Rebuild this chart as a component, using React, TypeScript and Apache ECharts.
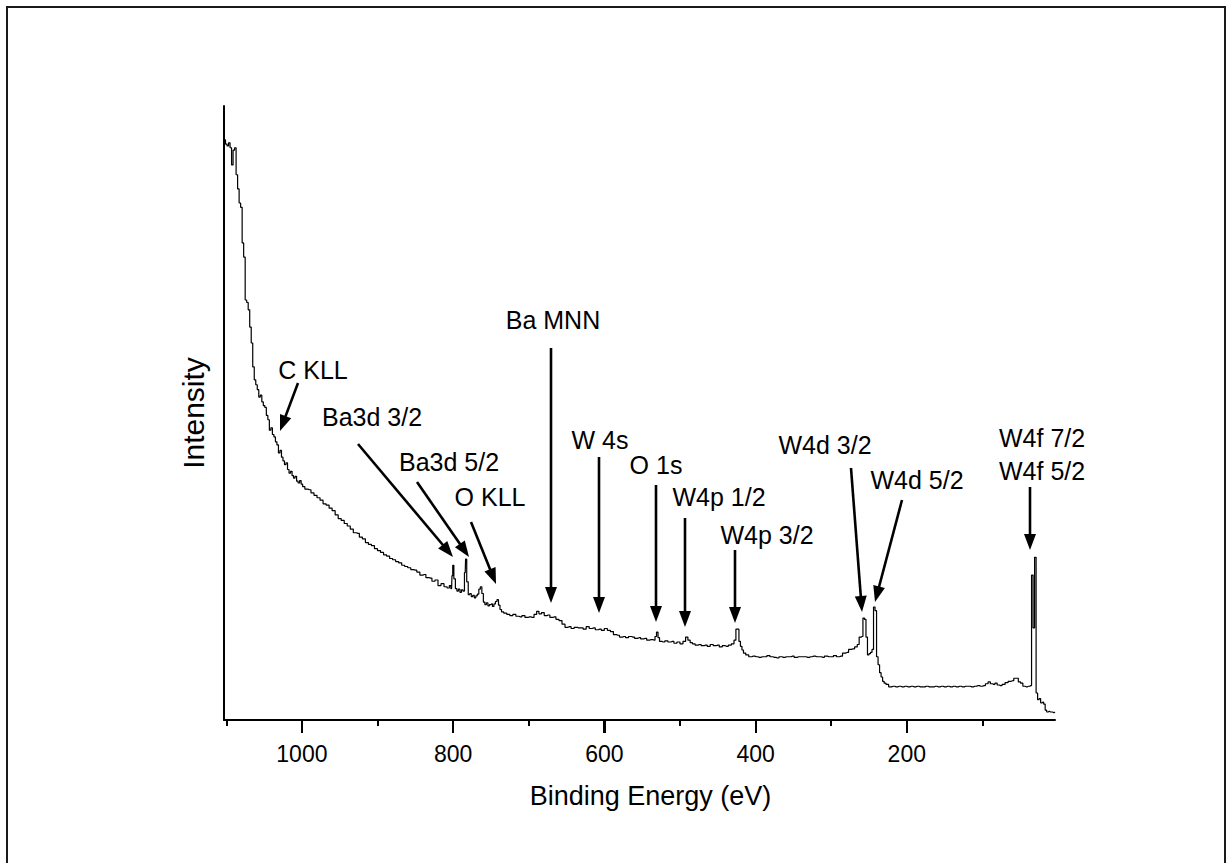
import React, { useEffect, useRef } from "react";
import * as echarts from "echarts";

// Binding energy (eV) and intensity (arb. units)
const SPECTRUM: [number, number][] = [
  [1102, 94.5], [1100, 93.8], [1098, 93.5], [1096, 94.0], [1094, 93.2], [1092, 90.4], [1090, 92.8], [1088, 93.2],
  [1086, 88.8], [1084, 86.5], [1082, 84.2], [1080, 83.5], [1078, 77.7], [1076, 75.4], [1074, 68.4], [1072, 68.0],
  [1070, 66.8], [1068, 64.0], [1066, 61.4], [1064, 57.5], [1062, 55.4], [1060, 54.6], [1058, 53.8], [1056, 52.6],
  [1054, 52.9], [1052, 51.8], [1050, 51.2], [1048, 50.9], [1046, 49.6], [1044, 48.9], [1042, 47.2], [1040, 47.6],
  [1038, 46.5], [1036, 46.1], [1034, 45.3], [1032, 44.8], [1030, 43.5], [1028, 43.9], [1026, 42.8], [1024, 42.2],
  [1022, 41.6], [1020, 41.9], [1018, 40.8], [1016, 40.2], [1014, 40.5], [1012, 39.8], [1010, 39.4], [1008, 39.7],
  [1006, 38.9], [1004, 38.6], [1002, 39.0], [1000, 38.4], [998, 38.0], [994, 37.6], [990, 37.5], [986, 37.0],
  [982, 36.6], [978, 36.2], [974, 35.8], [970, 35.2], [966, 35.0], [962, 34.5], [958, 34.1], [954, 33.4],
  [950, 32.8], [946, 32.5], [942, 32.0], [938, 31.6], [934, 31.1], [930, 30.5], [926, 30.4], [922, 29.8],
  [918, 29.5], [914, 28.9], [910, 28.6], [906, 28.4], [902, 27.9], [898, 27.6], [894, 27.3], [890, 26.9],
  [886, 26.7], [882, 26.3], [878, 26.1], [874, 25.8], [870, 25.6], [866, 25.2], [862, 25.0], [858, 24.8],
  [854, 24.5], [850, 24.4], [846, 24.1], [842, 23.6], [838, 23.7], [834, 23.2], [830, 23.1], [826, 22.6],
  [822, 22.8], [818, 21.9], [814, 22.2], [810, 21.7], [806, 21.5], [804, 21.9], [802, 21.4], [801, 23.5],
  [800, 25.2], [798, 23.0], [796, 21.4], [794, 21.0], [792, 21.3], [790, 20.8], [788, 21.2], [786, 21.0],
  [784, 24.0], [783, 26.2], [781, 22.5], [779, 20.4], [777, 20.6], [775, 20.1], [773, 20.3], [771, 19.9],
  [769, 20.2], [767, 20.5], [765, 21.3], [763, 21.7], [761, 20.6], [759, 19.2], [757, 18.8], [755, 19.1],
  [753, 18.6], [751, 18.8], [749, 18.9], [747, 18.5], [745, 18.9], [743, 19.3], [741, 19.6], [739, 18.7],
  [737, 18.0], [735, 17.6], [731, 17.4], [727, 17.2], [723, 17.0], [719, 17.2], [715, 16.9], [711, 16.8],
  [707, 17.0], [703, 16.7], [699, 16.8], [695, 16.7], [691, 17.2], [688, 17.7], [685, 17.3], [681, 17.5],
  [678, 17.0], [674, 17.1], [670, 16.7], [666, 16.8], [662, 16.4], [658, 16.2], [654, 15.6], [650, 15.1],
  [646, 15.2], [642, 14.9], [638, 15.1], [634, 15.0], [630, 15.0], [626, 14.8], [622, 15.2], [618, 14.9],
  [614, 15.0], [610, 14.7], [606, 14.8], [602, 14.6], [598, 14.9], [594, 14.6], [590, 14.4], [586, 13.9],
  [582, 13.8], [578, 13.5], [574, 13.6], [570, 13.4], [566, 13.6], [562, 13.5], [558, 13.3], [554, 13.4],
  [550, 13.2], [546, 13.3], [542, 13.0], [538, 13.1], [534, 13.0], [532, 13.6], [530, 14.3], [528, 13.4],
  [526, 12.8], [522, 12.7], [518, 12.9], [514, 12.7], [510, 12.8], [506, 12.5], [502, 12.7], [498, 12.4],
  [494, 12.8], [491, 13.5], [488, 13.0], [485, 12.6], [482, 12.4], [478, 12.2], [474, 12.3], [470, 12.1],
  [466, 12.2], [462, 12.0], [458, 12.3], [454, 12.1], [450, 12.2], [446, 11.9], [442, 12.1], [438, 12.0],
  [434, 12.2], [430, 12.4], [427, 13.0], [425, 14.8], [423, 14.8], [421, 12.8], [419, 12.0], [417, 11.4],
  [415, 10.9], [411, 10.6], [407, 10.3], [403, 10.4], [399, 10.3], [395, 10.2], [391, 10.3], [387, 10.3],
  [383, 10.5], [379, 10.3], [375, 10.2], [371, 10.1], [367, 10.3], [363, 10.2], [359, 10.3], [355, 10.3],
  [351, 10.4], [347, 10.2], [343, 10.3], [339, 10.3], [335, 10.3], [331, 10.2], [327, 10.3], [323, 10.4],
  [319, 10.3], [315, 10.3], [311, 10.2], [307, 10.4], [303, 10.3], [299, 10.3], [295, 10.5], [291, 10.3],
  [287, 10.4], [283, 10.9], [279, 11.0], [275, 11.5], [271, 11.6], [267, 11.9], [264, 12.3], [262, 13.5],
  [259, 13.6], [257, 16.6], [255, 16.4], [253, 13.5], [251, 10.6], [249, 10.8], [247, 11.0], [245, 11.5],
  [243, 18.4], [241, 17.8], [239, 10.3], [237, 9.0], [235, 7.7], [233, 7.0], [231, 6.3], [229, 6.0],
  [226, 5.8], [222, 5.4], [218, 5.5], [214, 5.4], [210, 5.5], [206, 5.4], [202, 5.5], [198, 5.4],
  [194, 5.5], [190, 5.4], [186, 5.5], [182, 5.4], [178, 5.4], [174, 5.5], [170, 5.4], [166, 5.4],
  [162, 5.5], [158, 5.4], [154, 5.5], [150, 5.4], [146, 5.5], [142, 5.4], [138, 5.5], [134, 5.4],
  [130, 5.5], [126, 5.4], [122, 5.5], [118, 5.5], [114, 5.4], [110, 5.5], [106, 5.6], [102, 5.5],
  [98, 5.6], [94, 5.9], [91, 6.2], [88, 5.9], [85, 5.8], [82, 6.0], [79, 5.7], [76, 5.6],
  [72, 5.8], [68, 6.1], [64, 6.3], [60, 6.4], [57, 6.8], [54, 6.8], [51, 6.2], [48, 6.0],
  [45, 5.5], [42, 5.4], [39, 5.5], [36, 5.6], [34, 23.6], [32, 15.0], [30, 26.5], [28, 4.4],
  [26, 3.3], [24, 3.5], [22, 2.8], [20, 2.9], [18, 2.6], [16, 1.6], [14, 1.3], [12, 1.4],
  [10, 1.3], [8, 1.3], [6, 1.2], [4, 1.3],
];

const MAJOR_TICKS = [1000, 800, 600, 400, 200];
const MINOR_TICKS = [1100, 900, 700, 500, 300, 100];

// Peak labels with arrow (start -> tip), page pixel coordinates
const LABELS = [
  { text: "C KLL", x: 313, y: 370, align: "center", arrow: [298, 383, 280, 431] },
  { text: "Ba3d 3/2", x: 372, y: 417, align: "center", arrow: [358, 444, 453, 557] },
  { text: "Ba3d 5/2", x: 449, y: 462, align: "center", arrow: [417, 482, 469, 557] },
  { text: "O KLL", x: 490, y: 497, align: "center", arrow: [471, 522, 496, 584] },
  { text: "Ba MNN", x: 553, y: 320, align: "center", arrow: [551, 348, 551, 603] },
  { text: "W 4s", x: 600, y: 440, align: "center", arrow: [599, 457, 599, 613] },
  { text: "O 1s", x: 656, y: 465, align: "center", arrow: [656, 485, 656, 622] },
  { text: "W4p 1/2", x: 719, y: 497, align: "center", arrow: [685, 518, 685, 627] },
  { text: "W4p 3/2", x: 767, y: 535, align: "center", arrow: [735, 550, 735, 623] },
  { text: "W4d 3/2", x: 825, y: 445, align: "center", arrow: [851, 468, 862, 612] },
  { text: "W4d 5/2", x: 917, y: 480, align: "center", arrow: [902, 500, 875, 602] },
  { text: "W4f 7/2", x: 999, y: 438, align: "left", arrow: null },
  { text: "W4f 5/2", x: 999, y: 471, align: "left", arrow: [1030, 487, 1030, 550] },
];

const FONT = "'Liberation Sans', Arial, Helvetica, sans-serif";

function buildGraphics(chart: any) {
  const els: any[] = [];
  els.push({
    type: "rect",
    shape: { x: 7, y: 7, width: 1218, height: 900 },
    style: { fill: "none", stroke: "#1a1a1a", lineWidth: 2 },
    silent: true,
  });
  // major ticks placed through the axis scale
  const y0 = chart.convertToPixel({ yAxisIndex: 0 }, 0) as number;
  MAJOR_TICKS.forEach((v) => {
    const px = Math.round(chart.convertToPixel({ xAxisIndex: 1 }, v) as number);
    els.push({
      type: "line",
      shape: { x1: px, y1: y0, x2: px, y2: y0 + 13 },
      style: { stroke: "#000", lineWidth: 2 },
      silent: true,
    });
  });
  LABELS.forEach((l) => {
    els.push({
      type: "text",
      x: l.x,
      y: l.y,
      style: {
        text: l.text,
        font: `25px ${FONT}`,
        fill: "#000",
        align: l.align,
        verticalAlign: "middle",
      },
    });
    if (l.arrow) {
      const [x1, y1, x2, y2] = l.arrow;
      const dx = x2 - x1;
      const dy = y2 - y1;
      const len = Math.sqrt(dx * dx + dy * dy);
      const ux = dx / len;
      const uy = dy / len;
      const L = 16;
      const W = 12;
      const bx = x2 - ux * L;
      const by = y2 - uy * L;
      const nx = -uy;
      const ny = ux;
      els.push({
        type: "line",
        shape: { x1, y1, x2: bx + ux * 2, y2: by + uy * 2 },
        style: { stroke: "#000", lineWidth: 2.6 },
      });
      els.push({
        type: "polygon",
        shape: {
          points: [
            [x2, y2],
            [bx + (nx * W) / 2, by + (ny * W) / 2],
            [bx - (nx * W) / 2, by - (ny * W) / 2],
          ],
        },
        style: { fill: "#000" },
      });
    }
  });
  return els;
}

export default function App() {
  const ref = useRef<HTMLDivElement>(null);
  useEffect(() => {
    if (!ref.current) return;
    const chart = echarts.init(ref.current, null, { renderer: "svg" });
    chart.setOption({
      animation: false,
      backgroundColor: "#fff",
      grid: { left: 224, right: 171, top: 106, bottom: 143, containLabel: false },
      xAxis: [
        {
          type: "value",
          inverse: true,
          min: 4,
          max: 1103,
          position: "bottom",
          axisLine: { show: false },
          axisTick: {
            show: true,
            customValues: MINOR_TICKS,
            length: 6,
            lineStyle: { color: "#000", width: 2 },
          },
          axisLabel: { show: false },
          splitLine: { show: false },
        },
        {
          type: "value",
          inverse: true,
          min: 4,
          max: 1103,
          position: "bottom",
          name: "Binding Energy (eV)",
          nameLocation: "middle",
          nameGap: 62,
          nameTextStyle: { fontSize: 27, fontFamily: FONT, color: "#000", padding: [0, 0, 0, 22] },
          axisLine: { show: true, onZero: false, lineStyle: { color: "#000", width: 2 } },
          axisTick: {
            show: true,
            customValues: MAJOR_TICKS,
            length: 13,
            lineStyle: { color: "#000", width: 2 },
          },
          axisLabel: {
            customValues: MAJOR_TICKS,
            fontSize: 23,
            fontFamily: FONT,
            color: "#000",
            margin: 22,
            formatter: (v: number) => String(v),
          },
          splitLine: { show: false },
        },
      ],
      yAxis: {
        type: "value",
        min: 0,
        max: 100,
        name: "Intensity",
        nameLocation: "middle",
        nameGap: 16,
        nameTextStyle: { fontSize: 30, fontFamily: FONT, color: "#000" },
        axisLine: { show: true, onZero: false, lineStyle: { color: "#000", width: 2 } },
        axisTick: { show: false },
        axisLabel: { show: false },
        splitLine: { show: false },
      },
      series: [
        {
          type: "line",
          xAxisIndex: 1,
          data: SPECTRUM,
          step: "middle",
          showSymbol: false,
          symbol: "none",
          lineStyle: { color: "#000", width: 1.2 },
          silent: true,
        },
      ],
    });
    chart.setOption({ graphic: buildGraphics(chart) });
    return () => chart.dispose();
  }, []);
  return (
    <div
      ref={ref}
      style={{ position: "fixed", left: 0, top: 0, width: 1226, height: 863, background: "#fff" }}
    />
  );
}
